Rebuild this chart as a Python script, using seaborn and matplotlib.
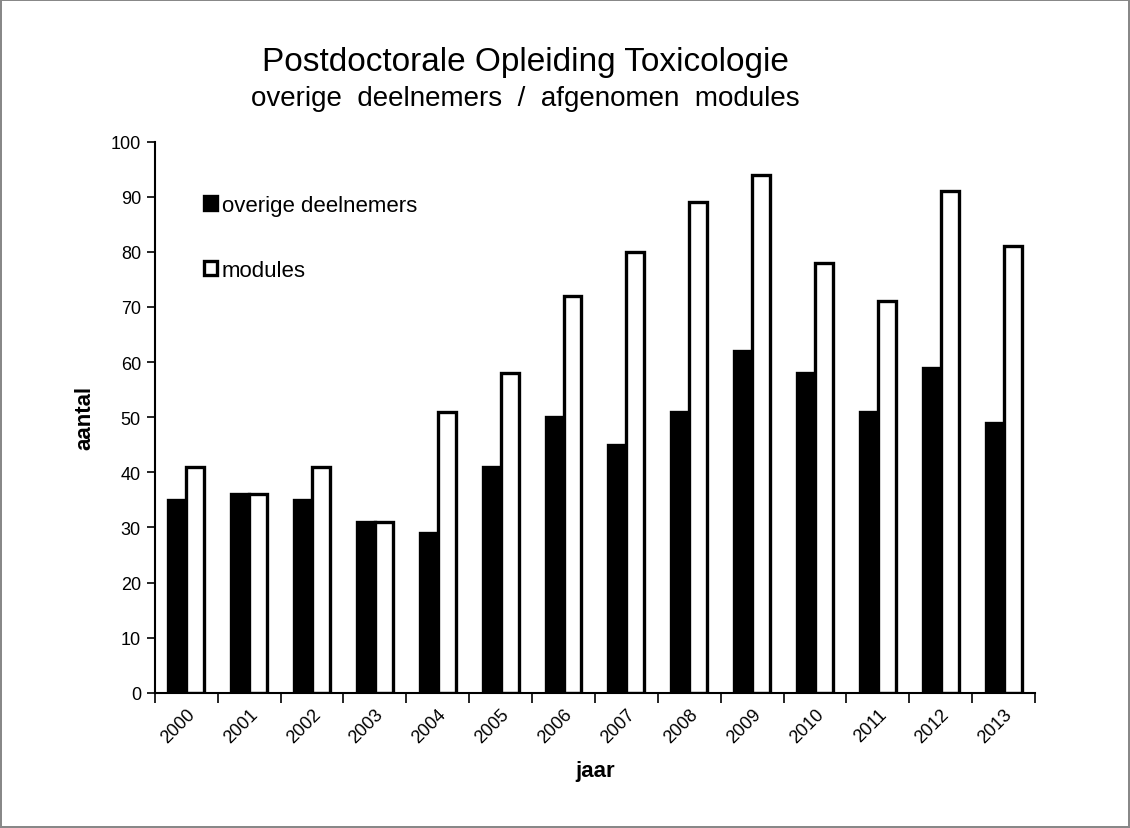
import pandas as pd
import matplotlib.pyplot as plt
import seaborn as sns

# Data
jaren = ['2000', '2001', '2002', '2003', '2004', '2005', '2006',
         '2007', '2008', '2009', '2010', '2011', '2012', '2013']
deelnemers = [35, 36, 35, 31, 29, 41, 50, 45, 51, 62, 58, 51, 59, 49]
modules = [41, 36, 41, 31, 51, 58, 72, 80, 89, 94, 78, 71, 91, 81]

df = pd.DataFrame({
    'jaar': jaren * 2,
    'aantal': deelnemers + modules,
    'reeks': ['overige deelnemers'] * len(jaren) + ['modules'] * len(jaren),
})

sns.set_style('white')
plt.rcParams['font.family'] = ['Liberation Sans', 'DejaVu Sans']
plt.rcParams['text.color'] = 'black'
plt.rcParams['axes.labelcolor'] = 'black'
plt.rcParams['xtick.color'] = 'black'
plt.rcParams['ytick.color'] = 'black'

fig = plt.figure(figsize=(11.3, 8.29), dpi=100)
fig.patch.set_edgecolor('#888888')
fig.patch.set_linewidth(1.5)
ax = fig.add_axes([0.137, 0.163, 0.779, 0.665])

sns.barplot(data=df, x='jaar', y='aantal', hue='reeks',
            palette={'overige deelnemers': 'black', 'modules': 'white'},
            edgecolor='black', linewidth=2.4, width=0.57, ax=ax)

ax.set_ylim(0, 100)
ax.set_xlim(-0.5, len(jaren) - 0.5)
ax.set_yticks(range(0, 101, 10))
ax.tick_params(axis='y', labelsize=13, length=6, width=1.2, direction='out', left=True, pad=4)
# tick marks between categories
ax.set_xticks([i - 0.5 for i in range(len(jaren) + 1)], minor=True)
ax.tick_params(axis='x', which='minor', length=7, width=1.2, direction='out', bottom=True)
ax.tick_params(axis='x', which='major', length=0, labelsize=13, pad=9)
plt.setp(ax.get_xticklabels(), rotation=45, ha='right', rotation_mode='anchor')

for s in ['top', 'right']:
    ax.spines[s].set_visible(False)
for s in ['left', 'bottom']:
    ax.spines[s].set_linewidth(1.5)
    ax.spines[s].set_color('black')

ax.set_xlabel('jaar', fontsize=16, fontweight='bold', labelpad=10)
ax.set_ylabel('aantal', fontsize=16, fontweight='bold', labelpad=11)

leg = ax.legend(loc='upper left', bbox_to_anchor=(0.033, 0.94), frameon=False,
                fontsize=16, labelspacing=2.0, handlelength=0.6, handleheight=0.6,
                handletextpad=0.2)

fig.text(0.465, 0.925, 'Postdoctorale Opleiding Toxicologie', ha='center', va='center', fontsize=24)
fig.text(0.465, 0.881, 'overige  deelnemers  /  afgenomen  modules', ha='center', va='center', fontsize=20)

fig.savefig('out.png', dpi=100)
